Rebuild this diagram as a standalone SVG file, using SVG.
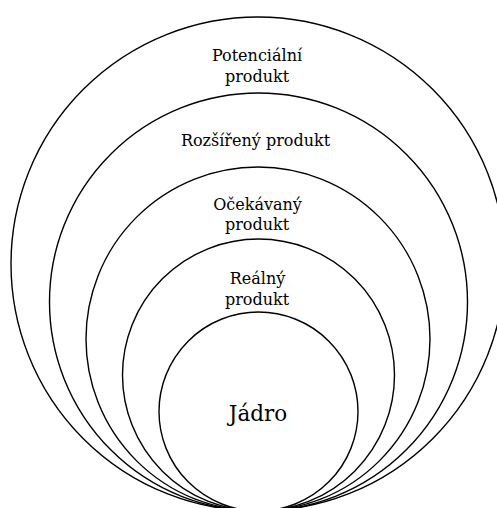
<svg xmlns="http://www.w3.org/2000/svg" width="497" height="508" viewBox="0 0 497 508">
<style>
.ring{fill:none;stroke:#000;stroke-width:1.4}
text{font-family:'DejaVu Serif',serif;font-size:16px;fill:#000;text-anchor:middle}
.core{font-size:21.5px}
</style>
<rect width="497" height="508" fill="#fff"/>
<g id="potencialni">
<circle class="ring" cx="258" cy="264" r="247"/>
<text x="257" y="61">Potenciální</text>
<text x="257" y="81.5">produkt</text>
</g>
<g id="rozsireny">
<circle class="ring" cx="258.5" cy="302" r="209"/>
<text x="255.5" y="146">Rozšířený produkt</text>
</g>
<g id="ocekavany">
<circle class="ring" cx="258" cy="339" r="172"/>
<text x="257.5" y="209.5">Očekávaný</text>
<text x="257" y="230">produkt</text>
</g>
<g id="realny">
<circle class="ring" cx="258.5" cy="375" r="136"/>
<text x="257.5" y="284">Reálný</text>
<text x="257" y="305">produkt</text>
</g>
<g id="jadro">
<circle class="ring" cx="258.5" cy="411.5" r="99.5"/>
<text class="core" x="258" y="421">Jádro</text>
</g>
<g id="connectors"/>
</svg>
